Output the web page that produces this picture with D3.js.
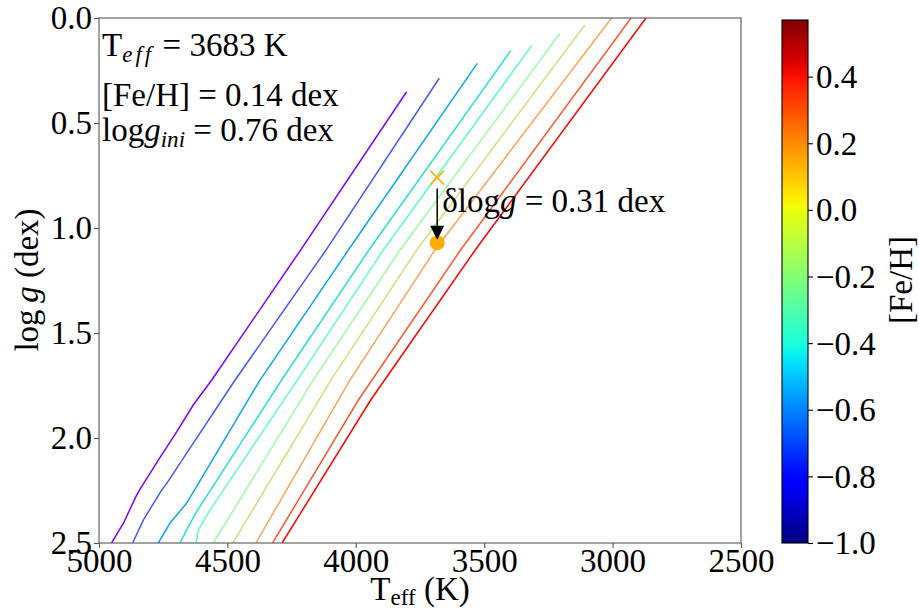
<!DOCTYPE html>
<html>
<head>
<meta charset="utf-8">
<script src="https://cdn.jsdelivr.net/npm/d3@7"></script>
<style>
  html, body { margin: 0; padding: 0; background: #fff; }
  svg text { font-family: "Liberation Serif", "Times New Roman", Times, Tinos, "DejaVu Serif", serif; fill: #000; }
</style>
</head>
<body>
<svg id="chart" width="919" height="609"></svg>
<script>
// Isochrone-like tracks in the Teff / log g plane, ordered metal-poor to metal-rich.
// Each node: [Teff (K), log g (dex)].
const tracks = [
  [[3802,0.351],[4215,1.105],[4561,1.724],[4633,1.843],[4697,1.970],[4769,2.105],[4834,2.232],[4853,2.271],[4905,2.406],[4951,2.5]],
  [[3675,0.287],[4116,1.105],[4470,1.724],[4672,2.097],[4736,2.216],[4756,2.248],[4827,2.390],[4869,2.5]],
  [[3527,0.216],[4029,1.105],[4373,1.724],[4659,2.311],[4724,2.406],[4769,2.5]],
  [[3397,0.156],[3949,1.105],[4289,1.724],[4620,2.351],[4652,2.422],[4685,2.5]],
  [[3314,0.129],[3893,1.105],[4228,1.724],[4568,2.343],[4613,2.438],[4622,2.5]],
  [[3206,0.075],[3828,1.105],[4166,1.724],[4555,2.5]],
  [[3108,0.033],[3763,1.105],[4097,1.724],[4479,2.5]],
  [[3004,0.000],[3692,1.105],[4023,1.724],[4389,2.5]],
  [[2928,0.000],[3592,1.105],[3990,1.819],[4324,2.5]],
  [[2870,0.000],[3535,1.105],[3942,1.819],[4287,2.5]]
];

// Star parameters and the log g shift
const starTeff = 3683;
const starFeH = 0.14;
const loggIni = 0.76;
const deltaLogg = 0.31;
const loggFinal = loggIni + deltaLogg;

// Axis ticks
const xTicks = [5000, 4500, 4000, 3500, 3000, 2500];
const yTicks = [0.0, 0.5, 1.0, 1.5, 2.0, 2.5];
const cbTicks = [-1.0, -0.8, -0.6, -0.4, -0.2, 0.0, 0.2, 0.4];
const cbDomain = [-1.0, 0.57];

// matplotlib "jet" anchor points
const jetR = [[0,0],[0.35,0],[0.66,1],[0.89,1],[1,0.5]];
const jetG = [[0,0],[0.125,0],[0.375,1],[0.64,1],[0.91,0],[1,0]];
const jetB = [[0,0.5],[0.11,1],[0.34,1],[0.65,0],[1,0]];

function piece(pts, t) {
  for (let i = 1; i < pts.length; i++) {
    if (t <= pts[i][0]) {
      const [x0, y0] = pts[i-1], [x1, y1] = pts[i];
      return y0 + (y1 - y0) * (t - x0) / (x1 - x0);
    }
  }
  return pts[pts.length-1][1];
}
function jet(t) {
  t = Math.max(0, Math.min(1, t));
  return d3.rgb(255*piece(jetR,t), 255*piece(jetG,t), 255*piece(jetB,t)).formatHex();
}
// matplotlib "rainbow"
function rainbow(t) {
  const r = Math.min(1, Math.abs(2*t - 0.5));
  const g = Math.sin(Math.PI * t);
  const b = Math.cos(Math.PI * t / 2);
  return d3.rgb(255*r, 255*g, 255*b).formatHex();
}

const svg = d3.select("#chart");
const FS = 33;
const axisColor = "#555";

const x = d3.scaleLinear().domain([5000, 2500]).range([99, 741]);
const y = d3.scaleLinear().domain([0, 2.5]).range([18, 543]);

svg.append("defs").append("clipPath").attr("id", "plotClip")
  .append("rect")
  .attr("x", x.range()[0]).attr("y", y.range()[0])
  .attr("width", x.range()[1] - x.range()[0])
  .attr("height", y.range()[1] - y.range()[0]);

// Tracks
const line = d3.line().x(d => x(d[0])).y(d => y(d[1]));
svg.append("g").attr("clip-path", "url(#plotClip)")
  .selectAll("path").data(tracks).join("path")
  .attr("d", line)
  .attr("fill", "none")
  .attr("stroke", (d, i) => rainbow(i / (tracks.length - 1)))
  .attr("stroke-width", 1.5);

// Axes
const xAxis = d3.axisBottom(x).tickValues(xTicks).tickFormat(d3.format("d")).tickSizeOuter(0).tickSize(5);
const yAxis = d3.axisLeft(y).tickValues(yTicks).tickFormat(d3.format(".1f")).tickSizeOuter(0).tickSize(5);

const gx = svg.append("g").attr("transform", `translate(0,${y.range()[1]})`).call(xAxis);
const gy = svg.append("g").attr("transform", `translate(${x.range()[0]},0)`).call(yAxis);
[gx, gy].forEach(g => {
  g.attr("font-family", null).attr("font-size", null);
  g.select(".domain").remove();
  g.selectAll("line").attr("stroke", axisColor).attr("stroke-width", 1.1);
  g.selectAll("text").attr("font-size", FS).attr("fill", "#000");
});
gx.selectAll("text").attr("y", 0).attr("dy", 29);
gy.selectAll("text").attr("x", -7).attr("dy", "0.33em");

// Frame
svg.append("rect")
  .attr("x", x.range()[0]).attr("y", y.range()[0])
  .attr("width", x.range()[1] - x.range()[0])
  .attr("height", y.range()[1] - y.range()[0])
  .attr("fill", "none").attr("stroke", axisColor).attr("stroke-width", 1.1);

// Axis labels
const xl = svg.append("text").attr("x", 420).attr("y", 600).attr("text-anchor", "middle").attr("font-size", FS);
xl.append("tspan").text("T");
xl.append("tspan").attr("font-size", FS * 0.7).attr("dy", 5).text("eff");
xl.append("tspan").attr("dy", -5).text(" (K)");

const yl = svg.append("text").attr("transform", "translate(38,280) rotate(-90)")
  .attr("text-anchor", "middle").attr("font-size", FS);
yl.append("tspan").text("log\u2009");
yl.append("tspan").attr("font-style", "italic").text("g");
yl.append("tspan").text(" (dex)");

// Parameter text block
const t1 = svg.append("text").attr("x", 102).attr("y", 56).attr("font-size", FS);
t1.append("tspan").text("T");
t1.append("tspan").attr("font-style", "italic").attr("font-size", FS * 0.7).attr("dy", 6)
  .attr("letter-spacing", 3).text("eff");
t1.append("tspan").attr("dy", -6).text(` = ${starTeff} K`);

svg.append("text").attr("x", 102).attr("y", 106).attr("font-size", FS)
  .text(`[Fe/H] = ${starFeH.toFixed(2)} dex`);

const t3 = svg.append("text").attr("x", 102).attr("y", 141).attr("font-size", FS);
t3.append("tspan").text("log");
t3.append("tspan").attr("font-style", "italic").text("g");
t3.append("tspan").attr("font-style", "italic").attr("font-size", FS * 0.7).attr("dy", 6).text("ini");
t3.append("tspan").attr("dy", -6).text(` = ${loggIni.toFixed(2)} dex`);

// Initial position marker (x) and final position (dot)
const mx = x(starTeff), my0 = y(loggIni), my1 = y(loggFinal);
const markColor = jet((starFeH - cbDomain[0]) / (cbDomain[1] - cbDomain[0]));
const s = 7;
svg.append("path")
  .attr("d", `M${mx-s},${my0-s}L${mx+s},${my0+s}M${mx-s},${my0+s}L${mx+s},${my0-s}`)
  .attr("stroke", markColor).attr("stroke-width", 1.5).attr("fill", "none");
svg.append("circle").attr("cx", mx).attr("cy", my1).attr("r", 7.5).attr("fill", markColor);

// Arrow from initial to final log g
const a0 = my0 + 11, a1 = my1 - 3;
svg.append("line").attr("x1", mx).attr("x2", mx).attr("y1", a0).attr("y2", a1 - 12)
  .attr("stroke", "#000").attr("stroke-width", 1.5);
svg.append("path")
  .attr("d", `M${mx-7},${a1-14}L${mx+7},${a1-14}L${mx},${a1}Z`)
  .attr("fill", "#000");

const dl = svg.append("text").attr("x", mx + 5).attr("y", my0 + 34).attr("font-size", FS);
dl.append("tspan").text("\u03b4log");
dl.append("tspan").attr("font-style", "italic").text("g");
dl.append("tspan").text(` = ${deltaLogg.toFixed(2)} dex`);

// Colorbar
const cbX = 782, cbW = 26;
const cy = d3.scaleLinear().domain(cbDomain).range([543, 20]);
const grad = svg.select("defs").append("linearGradient").attr("id", "jetGrad")
  .attr("x1", 0).attr("y1", 1).attr("x2", 0).attr("y2", 0);
d3.range(0, 1.0001, 0.02).forEach(t => {
  grad.append("stop").attr("offset", t).attr("stop-color", jet(t));
});
svg.append("rect").attr("x", cbX).attr("y", cy.range()[1]).attr("width", cbW)
  .attr("height", cy.range()[0] - cy.range()[1])
  .attr("fill", "url(#jetGrad)").attr("stroke", "#000").attr("stroke-width", 1.1);

const cbAxis = d3.axisRight(cy).tickValues(cbTicks)
  .tickFormat(d => (d < 0 ? "\u2212" : "") + Math.abs(d).toFixed(1))
  .tickSize(5).tickSizeOuter(0);
const gcb = svg.append("g").attr("transform", `translate(${cbX + cbW},0)`).call(cbAxis);
gcb.attr("font-family", null).attr("font-size", null);
gcb.select(".domain").remove();
gcb.selectAll("line").attr("stroke", "#000").attr("stroke-width", 1.1);
gcb.selectAll("text").attr("font-size", FS).attr("fill", "#000").attr("x", 8).attr("dy", "0.33em");

svg.append("text").attr("transform", "translate(912,280) rotate(-90)")
  .attr("text-anchor", "middle").attr("font-size", FS).text("[Fe/H]");
</script>
</body>
</html>
